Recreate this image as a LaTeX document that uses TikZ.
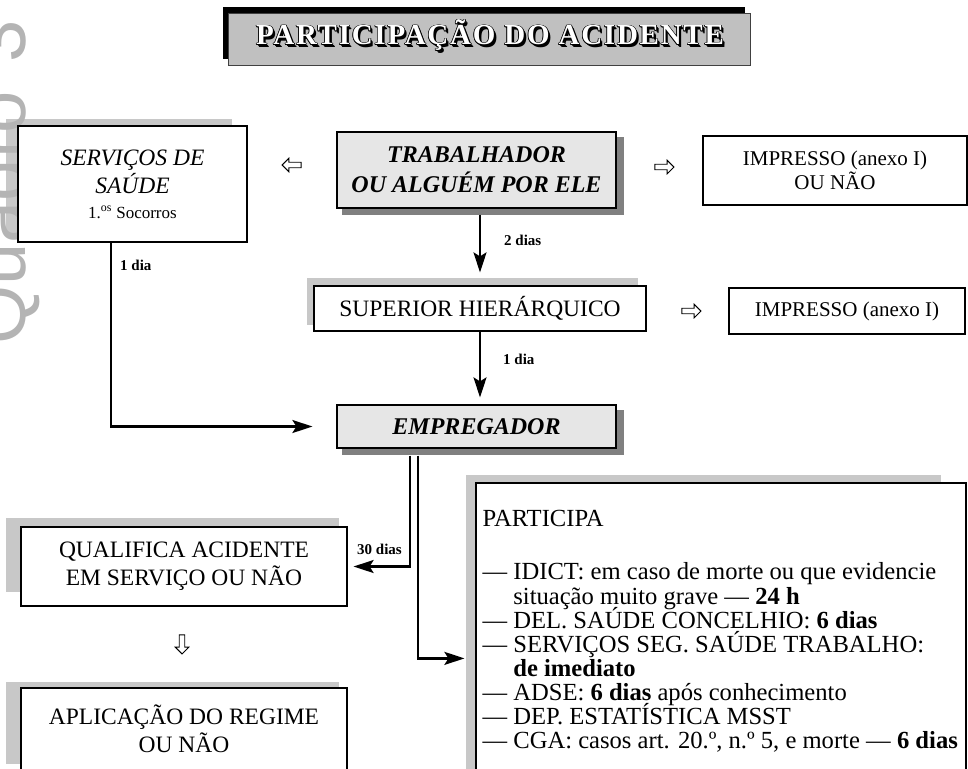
\documentclass[tikz,border=0pt]{standalone}
\usepackage{fontspec}
\setmainfont{Liberation Serif}
\newfontfamily\wmfont{Liberation Sans}
\newfontfamily\ttlfont[LetterSpace=6,BoldFont={Liberation Serif Bold}]{Liberation Serif}
\usetikzlibrary{arrows.meta,shapes.arrows,calc}
\pgfdeclarelayer{bg}
\pgfsetlayers{bg,main}
\newcommand\tightlines{\lineskiplimit=-30pt\relax\lineskip=0pt\relax}
\definecolor{boxgray}{HTML}{E6E6E6}
\definecolor{shgray}{HTML}{C8C8C8}
\definecolor{dkshadow}{HTML}{808080}
\definecolor{titlegray}{HTML}{C0C0C0}
\definecolor{wmgray}{HTML}{B4B4B4}
\tikzset{
  box/.style={draw=black, line width=1.2pt, fill=white, inner sep=0pt, align=center,
              font=\fontsize{23.5}{28}\selectfont},
  gbox/.style={box, fill=boxgray, font=\fontsize{24}{30}\selectfont\bfseries\itshape},
  impbox/.style={box, font=\fontsize{21}{24}\selectfont},
  conn/.style={line width=2.4pt, -{Stealth[length=20pt,width=13pt,inset=4pt]}},
  lbl/.style={font=\fontsize{15}{15}\selectfont\bfseries, inner sep=0pt, anchor=west},
  openarrow/.style={single arrow, draw=black, fill=white, line width=0.9pt,
              minimum height=19pt, minimum width=13pt, single arrow head extend=4pt, inner sep=2.3pt},
  ttl/.style={font=\ttlfont\fontsize{29}{29}\selectfont\bfseries, inner sep=0pt, anchor=base},
  lightshadow/.style={fill=shgray},
  darkshadow/.style={fill=dkshadow},
}
\begin{document}
\begin{tikzpicture}[x=1pt,y=-1pt]
\useasboundingbox (0,0) rectangle (968,768);

% watermark
\node[rotate=90, anchor=base west, inner sep=0pt, text=wmgray,
      font=\wmfont\fontsize{76}{76}\selectfont] (wm) at (25,345) {Quadro\hspace{8pt} 3};

% title
\node[draw=black!75, line width=0.8pt, fill=titlegray, minimum width=522pt, minimum height=52pt, inner sep=0pt] (title) at (489,39) {};
\foreach \dx/\dy in {1.6/1.6, 2.4/2.4, 0.7/0, -0.7/0, 0/0.7, 0/-0.7, 0.5/0.5, -0.5/-0.5, 0.5/-0.5, -0.5/0.5}
  \node[ttl, text=black] at (490+\dx,45+\dy) {PARTICIPAÇÃO DO ACIDENTE};
\node[ttl, text=white] (ttext) at (490,45) {PARTICIPAÇÃO DO ACIDENTE};

% boxes
\node[box, font=\fontsize{23.5}{28}\selectfont\itshape, minimum width=229pt, minimum height=116pt] (serv) at (132.5,184)
  {SERVIÇOS DE\\SAÚDE\\[-3pt]{\upshape\fontsize{17}{20}\selectfont 1.\textsuperscript{os} Socorros}};
\node[gbox, minimum width=279pt, minimum height=76pt] (trab) at (476.5,170) {TRABALHADOR\\OU ALGUÉM POR ELE};
\node[impbox, minimum width=264pt, minimum height=69pt] (imp1) at (835,170.5) {IMPRESSO (anexo I)\\OU NÃO};
\node[box, minimum width=332pt, minimum height=45pt] (sup) at (480,308.5) {SUPERIOR HIERÁRQUICO};
\node[impbox, minimum width=236pt, minimum height=46pt] (imp2) at (847,311) {IMPRESSO (anexo I)};
\node[gbox, minimum width=279pt, minimum height=43pt] (emp) at (476.5,426.5) {EMPREGADOR};
\node[box, minimum width=326pt, minimum height=79pt] (qual) at (184,566.5) {QUALIFICA ACIDENTE\\EM SERVIÇO OU NÃO};
\node[box, minimum width=326pt, minimum height=82pt] (apl) at (184,729) {APLICAÇÃO DO REGIME\\OU NÃO};
\node[box, minimum width=490pt, minimum height=317pt] (part) at (721,641.5) {};
\node[anchor=north west, inner sep=0pt, align=left,
      font=\fontsize{24.6}{24.1}\selectfont\tightlines] (ptext)
  at ([shift={(7,28)}]part.north west)
  {PARTICIPA\\[29pt]
   — IDICT: em caso de morte ou que evidencie\\
   \hphantom{— }situação muito grave — \textbf{24 h}\\
   — DEL. SAÚDE CONCELHIO: \textbf{6 dias}\\
   — SERVIÇOS SEG. SAÚDE TRABALHO:\\
   \hphantom{— }\textbf{de imediato}\\
   — ADSE: \textbf{6 dias} após conhecimento\\
   — DEP. ESTATÍSTICA MSST\\
   — CGA: casos art. 20.º, n.º 5, e morte — \textbf{6 dias}};

% shadows
\begin{pgfonlayer}{bg}
  \fill[black] ([shift={(-5,-6)}]title.north west) rectangle ([shift={(-5,-6)}]title.south east);
  \fill[lightshadow] ([shift={(-11,-6)}]serv.north west) rectangle ([shift={(-16,-7)}]serv.south east);
  \fill[lightshadow] ([shift={(-6,-7)}]sup.north west) rectangle ([shift={(-9,-7)}]sup.south east);
  \fill[lightshadow] ([shift={(-14,-8)}]qual.north west) rectangle ([shift={(-9,-15)}]qual.south east);
  \fill[lightshadow] ([shift={(-14,-5)}]apl.north west) rectangle ([shift={(-9,-7)}]apl.south east);
  \fill[lightshadow] ([shift={(-9,-7)}]part.north west) rectangle ([shift={(-26,-7)}]part.south east);
  \fill[darkshadow] ([shift={(6,6)}]trab.north west) rectangle ([shift={(7,6)}]trab.south east);
  \fill[darkshadow] ([shift={(6,6)}]emp.north west) rectangle ([shift={(7,6)}]emp.south east);
\end{pgfonlayer}

% open arrows
\node[openarrow, shape border rotate=180] (oaL) at (293,165) {};
\node[openarrow] (oaR1) at (663,167) {};
\node[openarrow] (oaR2) at (690,311) {};
\node[openarrow, shape border rotate=270] (oaD) at (182,643) {};

% connectors
\draw[conn, shorten <=6pt, shorten >=13pt] (trab.south -| sup.north) -- (sup.north);
\draw[conn, shorten >=7pt] (sup.south) -- (sup.south |- emp.north);
\draw[conn, shorten >=24pt] ([xshift=-21.5pt]serv.south) |- (emp.west);
\draw[conn, shorten <=7pt, shorten >=6pt] ([xshift=-66.5pt]emp.south) |- (qual.east);
\draw[conn, shorten <=7pt, shorten >=11pt] ([xshift=-58.5pt]emp.south) |- ([yshift=-176pt]part.north west);

% labels
\node[lbl] (l2d) at (504,240) {2 dias};
\node[lbl] (l1d) at (503,359) {1 dia};
\node[lbl] (l1s) at (120,265) {1 dia};
\node[lbl] (l30) at (357,549) {30 dias};
\end{tikzpicture}
\end{document}
